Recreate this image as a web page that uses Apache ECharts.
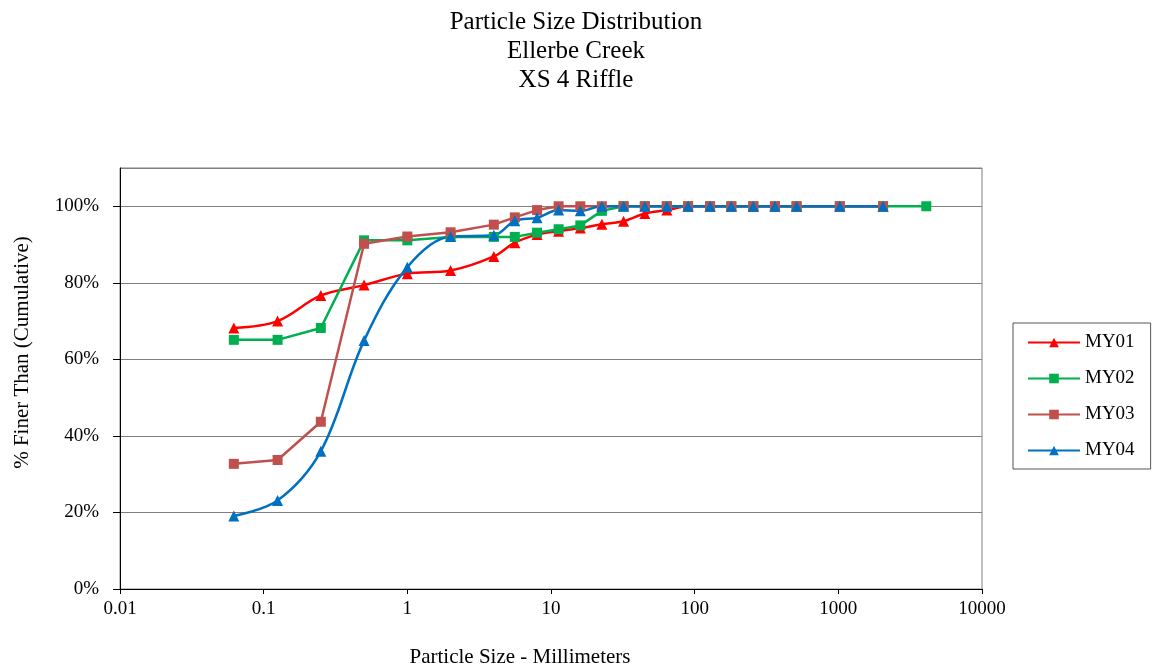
<!DOCTYPE html>
<html lang="en">
<head>
  <meta charset="UTF-8">
  <title>Particle Size Distribution</title>
  <script src="https://cdn.jsdelivr.net/npm/echarts@6/dist/echarts.min.js"></script>
  <style>
    body { margin: 0; background: #fff; }
    #chart { width: 1162px; height: 670px; }
  </style>
</head>
<body>
  <div id="chart"></div>
  <script>
    // particle sizes (mm)
    var sizes = [0.062, 0.125, 0.25, 0.5, 1, 2, 4, 5.6, 8, 11.3, 16, 22.6, 32, 45, 64, 90, 128, 180, 256, 362, 512, 1024, 2048, 4096];
    // % finer
    var my01 = [68.2, 70, 76.7, 79.4, 82.4, 83.2, 86.9, 90.5, 92.6, 93.5, 94.3, 95.3, 96.1, 98.1, 99, 100, 100, 100, 100, 100, 100, 100, 100];
    var my02 = [65.1, 65.1, 68.2, 91.1, 91.1, 92, 92, 92, 93.1, 94, 95, 98.8, 100, 100, 100, 100, 100, 100, 100, 100, 100, 100, 100, 100];
    var my03 = [32.7, 33.7, 43.7, 90.2, 92.1, 93.2, 95.2, 97.1, 99, 100, 100, 100, 100, 100, 100, 100, 100, 100, 100, 100, 100, 100, 100];
    var my04 = [19.1, 23.1, 36, 64.9, 84.1, 92.1, 92.4, 96.2, 97, 99, 98.8, 100, 100, 100, 100, 100, 100, 100, 100, 100, 100, 100, 100];
    var yTicks = [0, 20, 40, 60, 80, 100];

    var serif = 'Liberation Serif';

    function pairs(vals) {
      return vals.map(function (v, i) { return [sizes[i], v]; });
    }

    function makeSeries(name, vals, color, symbol, smooth) {
      return {
        name: name,
        type: 'line',
        data: pairs(vals),
        smooth: smooth ? 0.35 : false,
        symbol: symbol,
        symbolSize: symbol === 'triangle' ? 11 : 10,
        lineStyle: { color: color, width: 2.5 },
        itemStyle: { color: color },
        z: 2
      };
    }

    var chart = echarts.init(document.getElementById('chart'));
    chart.setOption({
      animation: false,
      title: {
        text: 'Particle Size Distribution\nEllerbe Creek\nXS 4 Riffle',
        left: 571,
        textAlign: 'center',
        top: 3,
        textStyle: { fontFamily: serif, fontSize: 25, fontWeight: 'normal', color: '#000', lineHeight: 29 }
      },
      legend: {
        orient: 'vertical',
        left: 1013,
        top: 323,
        padding: [10, 16, 9, 14],
        itemWidth: 52,
        itemHeight: 12,
        itemGap: 17,
        borderColor: '#555',
        borderWidth: 1,
        textStyle: { fontFamily: serif, fontSize: 19, color: '#000' },
        data: ['MY01', 'MY02', 'MY03', 'MY04']
      },
      grid: {
        left: 120, right: 180, top: 168, bottom: 81,
        outerBoundsMode: 'none',
        containLabel: false,
        show: true,
        borderColor: '#808080',
        borderWidth: 1
      },
      xAxis: {
        type: 'log',
        logBase: 10,
        min: 0.01,
        max: 10000,
        name: 'Particle Size - Millimeters',
        nameLocation: 'middle',
        nameGap: 58,
        nameTextStyle: { fontFamily: serif, fontSize: 21, color: '#000', padding: [0, 62, 0, 0] },
        axisLine: { lineStyle: { color: '#000' } },
        axisTick: { show: true, inside: false, length: 5, lineStyle: { color: '#000' } },
        minorTick: { show: false },
        splitLine: { show: false },
        axisLabel: {
          fontFamily: serif, fontSize: 19, color: '#000', margin: 11,
          formatter: function (v) { return String(+v.toPrecision(6)); }
        }
      },
      yAxis: {
        type: 'value',
        min: 0,
        max: 110,
        interval: 20,
        name: '% Finer Than (Cumulative)',
        nameLocation: 'middle',
        nameGap: 87,
        nameTextStyle: { fontFamily: serif, fontSize: 21, color: '#000', padding: [0, 0, 0, 52] },
        axisLine: { show: true, lineStyle: { color: '#000' } },
        axisTick: { show: true, length: 7, lineStyle: { color: '#000' } },
        splitLine: { show: true, lineStyle: { color: '#808080', width: 1 } },
        axisLabel: {
          fontFamily: serif, fontSize: 19, color: '#000', margin: 21,
          showMaxLabel: false,
          formatter: function (v) { return yTicks.indexOf(v) >= 0 ? v + '%' : ''; }
        }
      },
      series: [
        makeSeries('MY01', my01, '#ff0000', 'triangle', true),
        makeSeries('MY02', my02, '#00b050', 'rect', false),
        makeSeries('MY03', my03, '#c0504d', 'rect', false),
        makeSeries('MY04', my04, '#0070c0', 'triangle', true)
      ]
    });
  </script>
</body>
</html>
